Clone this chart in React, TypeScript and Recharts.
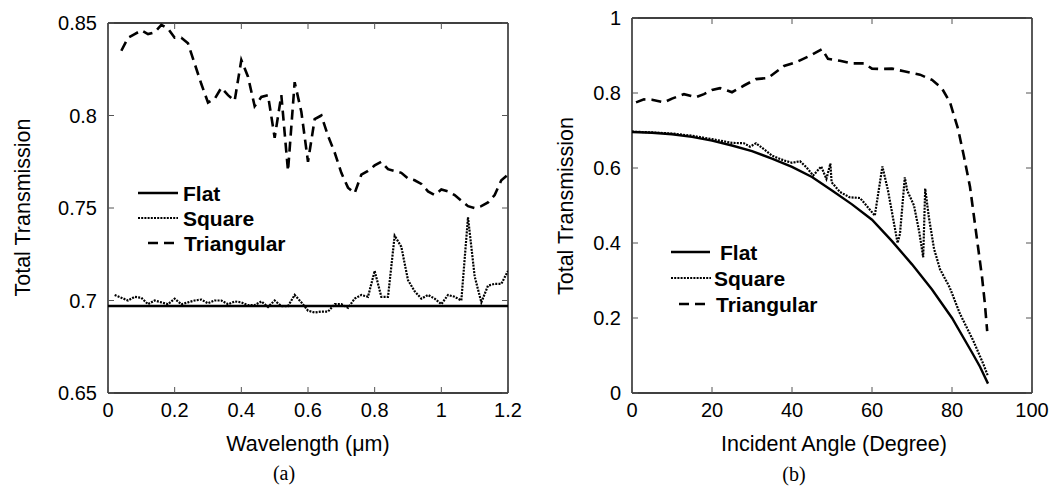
import React from 'react'
import { LineChart, Line, XAxis, YAxis, Legend } from 'recharts'

// ---- panel (a): transmission vs wavelength ----
const wlFlat = [0, 0.2, 0.4, 0.6, 0.8, 1.0, 1.2]
const flatA = [0.697, 0.697, 0.697, 0.697, 0.697, 0.697, 0.697]

const wlSquare = [
  0.02, 0.04, 0.06, 0.08, 0.1, 0.12, 0.14, 0.16, 0.18, 0.2, 0.22, 0.24, 0.26, 0.28, 0.3,
  0.32, 0.34, 0.36, 0.38, 0.4, 0.42, 0.44, 0.46, 0.48, 0.5, 0.52, 0.54, 0.56, 0.58, 0.6,
  0.62, 0.64, 0.66, 0.68, 0.7, 0.72, 0.74, 0.76, 0.78, 0.8, 0.82, 0.84, 0.86, 0.88, 0.9,
  0.92, 0.94, 0.96, 0.98, 1.0, 1.02, 1.04, 1.06, 1.08, 1.1, 1.12, 1.14, 1.16, 1.18, 1.2,
]
const squareA = [
  0.703, 0.7015, 0.7, 0.702, 0.7015, 0.698, 0.7, 0.699, 0.698, 0.701, 0.698, 0.699, 0.7, 0.7005, 0.6985,
  0.7, 0.7, 0.698, 0.6995, 0.699, 0.6975, 0.6975, 0.6995, 0.6965, 0.7, 0.697, 0.697, 0.703, 0.699, 0.6945,
  0.6935, 0.694, 0.694, 0.698, 0.698, 0.696, 0.701, 0.703, 0.702, 0.716, 0.702, 0.702, 0.735, 0.729, 0.711,
  0.705, 0.701, 0.703, 0.701, 0.698, 0.703, 0.702, 0.7, 0.745, 0.713, 0.699, 0.708, 0.709, 0.709, 0.716,
]

const wlTri = [
  0.04, 0.06, 0.08, 0.1, 0.12, 0.14, 0.16, 0.18, 0.2, 0.22, 0.24, 0.26, 0.28, 0.3,
  0.32, 0.34, 0.36, 0.38, 0.4, 0.42, 0.44, 0.46, 0.48, 0.5, 0.52, 0.54, 0.56, 0.58, 0.6,
  0.62, 0.64, 0.66, 0.68, 0.7, 0.72, 0.74, 0.76, 0.78, 0.8, 0.82, 0.84, 0.86, 0.88, 0.9,
  0.92, 0.94, 0.96, 0.98, 1.0, 1.02, 1.04, 1.06, 1.08, 1.1, 1.12, 1.14, 1.16, 1.18, 1.2,
]
const triA = [
  0.835, 0.842, 0.844, 0.846, 0.844, 0.845, 0.849, 0.847, 0.842, 0.842, 0.839, 0.828, 0.817, 0.807,
  0.809, 0.815, 0.811, 0.808, 0.83, 0.821, 0.805, 0.81, 0.811, 0.788, 0.811, 0.77, 0.818, 0.802, 0.775,
  0.798, 0.8, 0.789, 0.78, 0.769, 0.761, 0.758, 0.768, 0.77, 0.773, 0.775, 0.771, 0.77, 0.769, 0.766,
  0.765, 0.763, 0.759, 0.757, 0.76, 0.759, 0.757, 0.754, 0.751, 0.75, 0.751, 0.753, 0.757, 0.765, 0.768,
]

// ---- panel (b): transmission vs incident angle ----
const angFlat = [0, 5, 10, 15, 20, 25, 30, 35, 40, 45, 50, 55, 60, 65, 70, 75, 80, 85, 87, 89]
const flatB = [
  0.696, 0.694, 0.69, 0.683, 0.673, 0.66, 0.645, 0.625, 0.603, 0.576, 0.54, 0.503, 0.462, 0.405,
  0.343, 0.276, 0.2, 0.108, 0.07, 0.025,
]

const angSquare = [
  0, 5, 10, 15, 20, 25, 28, 29.5, 31, 33, 35, 38, 40, 42, 43.6, 45.3, 47.3, 48.6, 49.6, 49.9, 52,
  54.4, 57, 58.6, 60.7, 62.6, 64, 65.3, 66.4, 67, 68.2, 68.8, 70.5, 71.8, 72.8, 73.3, 74.2, 75.5,
  77, 79.4, 82, 85.3, 87.8, 89,
]
const squareB = [
  0.697, 0.695, 0.692, 0.686, 0.677, 0.667, 0.666, 0.657, 0.666, 0.65, 0.633, 0.62, 0.614, 0.618,
  0.602, 0.58, 0.604, 0.571, 0.612, 0.562, 0.536, 0.522, 0.52, 0.5, 0.473, 0.604, 0.54, 0.464, 0.4,
  0.425, 0.575, 0.54, 0.5, 0.43, 0.362, 0.545, 0.47, 0.385, 0.33, 0.282, 0.211, 0.14, 0.078, 0.045,
]

const angTri = [
  1, 3, 5, 8, 10, 13, 16, 18, 20, 22, 24, 25, 28, 31, 34, 38, 41, 45, 47.5, 49, 52, 55, 58, 60, 62,
  65, 68, 72, 75, 77.5, 79.5, 81.5, 83, 84.5, 85.5, 86.5, 87.5, 88.2, 88.8,
]
const triB = [
  0.775, 0.783, 0.782, 0.775, 0.785, 0.797, 0.789, 0.797, 0.808, 0.813, 0.806, 0.802, 0.82, 0.837,
  0.84, 0.872, 0.882, 0.902, 0.917, 0.891, 0.886, 0.879, 0.879, 0.865, 0.864, 0.865, 0.858, 0.849,
  0.835, 0.812, 0.775, 0.705, 0.63, 0.55, 0.47, 0.39, 0.31, 0.24, 0.165,
]

const seriesNames = ['Flat', 'Square', 'Triangular']
const ticksWl = [0, 0.2, 0.4, 0.6, 0.8, 1, 1.2]
const ticksTa = [0.65, 0.7, 0.75, 0.8, 0.85]
const ticksAng = [0, 20, 40, 60, 80, 100]
const ticksTb = [0, 0.2, 0.4, 0.6, 0.8, 1]

const zip = (xs: number[], ys: number[]) => xs.map((x, i) => ({ x, y: ys[i] }))

const FONT = '"Liberation Sans", Arial, sans-serif'
const TICK = 6
const TICK_COLOR = '#555'
const TICK_FONT = 20

type TickProps = { x?: number; y?: number; payload?: { value: number } }

const BottomTick = ({ x = 0, y = 0, payload }: TickProps) => (
  <g>
    <line x1={x} y1={y} x2={x} y2={y - TICK} stroke={TICK_COLOR} />
    <text x={x} y={y + 23.5} textAnchor="middle" fontSize={TICK_FONT} fontFamily={FONT} fill="#000">
      {payload?.value}
    </text>
  </g>
)
const TopTick = ({ x = 0, y = 0 }: TickProps) => (
  <line x1={x} y1={y} x2={x} y2={y + TICK} stroke={TICK_COLOR} />
)
const LeftTick = ({ x = 0, y = 0, payload }: TickProps) => (
  <g>
    <line x1={x} y1={y} x2={x + TICK} y2={y} stroke={TICK_COLOR} />
    <text x={x - 11} y={y} dy="0.36em" textAnchor="end" fontSize={TICK_FONT} fontFamily={FONT} fill="#000">
      {payload?.value}
    </text>
  </g>
)
const RightTick = ({ x = 0, y = 0 }: TickProps) => (
  <line x1={x} y1={y} x2={x - TICK} y2={y} stroke={TICK_COLOR} />
)

const axisLine = { stroke: '#000', strokeWidth: 1.3 }

// box frame: four axes with inward ticks (1px thick axes so they still render)
function frame(xDomain: number[], yDomain: number[], xTicks: number[], yTicks: number[]) {
  return [
    <XAxis key="b" xAxisId="b" dataKey="x" type="number" domain={xDomain} ticks={xTicks} allowDataOverflow
      height={1} tickLine={false} tickSize={0} tickMargin={0} interval={0} axisLine={axisLine}
      tick={(p: TickProps) => <BottomTick {...p} />} />,
    <XAxis key="t" xAxisId="t" orientation="top" dataKey="x" type="number" domain={xDomain} ticks={xTicks}
      allowDataOverflow height={1} tickLine={false} tickSize={0} tickMargin={0} interval={0} axisLine={axisLine}
      tick={(p: TickProps) => <TopTick {...p} />} />,
    <YAxis key="l" yAxisId="l" type="number" domain={yDomain} ticks={yTicks} allowDataOverflow width={1}
      tickLine={false} tickSize={0} tickMargin={0} interval={0} axisLine={axisLine}
      tick={(p: TickProps) => <LeftTick {...p} />} />,
    <YAxis key="r" yAxisId="r" orientation="right" type="number" domain={yDomain} ticks={yTicks}
      allowDataOverflow width={1} tickLine={false} tickSize={0} tickMargin={0} interval={0} axisLine={axisLine}
      tick={(p: TickProps) => <RightTick {...p} />} />,
  ]
}

const styles = [
  { strokeWidth: 2.4 },
  { strokeWidth: 2.2, strokeDasharray: '2 1.2' },
  { strokeWidth: 2.6, strokeDasharray: '10 6' },
]

type Row = { x1: number; x2: number; tx: number; y: number }

const makeLegend = (rows: Row[]) => (props: any) => {
  const items = props.payload ?? []
  return (
    <svg width={230} height={90} style={{ overflow: 'visible', display: 'block' }}>
      {items.map((it: any, i: number) => {
        const r = rows[i]
        const p = it.payload ?? {}
        return (
          <g key={i}>
            <line x1={r.x1} x2={r.x2} y1={r.y} y2={r.y} stroke="#000"
              strokeWidth={p.strokeWidth} strokeDasharray={p.strokeDasharray} />
            <text x={r.tx} y={r.y} dy="0.36em" fontSize={21} fontWeight="bold" fontFamily={FONT} fill="#000">
              {it.value}
            </text>
          </g>
        )
      })}
    </svg>
  )
}

const legendA = makeLegend([
  { x1: 8, x2: 48, tx: 53, y: 23 },
  { x1: 8, x2: 48, tx: 53, y: 48 },
  { x1: 18, x2: 46, tx: 54, y: 73 },
])
const legendB = makeLegend([
  { x1: 11, x2: 50, tx: 60, y: 22 },
  { x1: 11, x2: 51, tx: 54, y: 48 },
  { x1: 19, x2: 48, tx: 56, y: 74 },
])

function lines(datasets: { x: number; y: number }[][]) {
  return datasets.map((d, i) => (
    <Line key={seriesNames[i]} name={seriesNames[i]} data={d} dataKey="y" xAxisId="b" yAxisId="l"
      type="linear" stroke="#000" {...styles[i]} dot={false} activeDot={false}
      isAnimationActive={false} legendType="line" />
  ))
}

export default function App() {
  const dataA = [zip(wlFlat, flatA), zip(wlSquare, squareA), zip(wlTri, triA)]
  const dataB = [zip(angFlat, flatB), zip(angSquare, squareB), zip(angTri, triB)]
  const txt = { fontFamily: FONT, fill: '#000' }
  return (
    <div style={{ position: 'absolute', left: 0, top: 0, width: 1051, height: 489, background: '#fff' }}>
      <div style={{ position: 'absolute', left: 0, top: 0 }}>
        <LineChart width={545} height={489} margin={{ top: 22, right: 36, bottom: 95, left: 107 }}>
          {frame([0, 1.2], [0.65, 0.85], ticksWl, ticksTa)}
          {lines(dataA)}
          <Legend layout="vertical" align="center" verticalAlign="middle" content={legendA}
            wrapperStyle={{ left: 130, top: 170, width: 230, height: 90 }} />
        </LineChart>
      </div>
      <div style={{ position: 'absolute', left: 520, top: 0 }}>
        <LineChart width={531} height={489} margin={{ top: 17, right: 18, bottom: 95, left: 111 }}>
          {frame([0, 100], [0, 1], ticksAng, ticksTb)}
          {lines(dataB)}
          <Legend layout="vertical" align="center" verticalAlign="middle" content={legendB}
            wrapperStyle={{ left: 140, top: 230, width: 230, height: 90 }} />
        </LineChart>
      </div>
      <svg width={1051} height={489} style={{ position: 'absolute', left: 0, top: 0, pointerEvents: 'none' }}>
        <text transform="translate(30,207.5) rotate(-90)" textAnchor="middle" fontSize={21.5} {...txt}>
          Total Transmission
        </text>
        <text x={308} y={451} textAnchor="middle" fontSize={21.5} {...txt}>Wavelength (μm)</text>
        <text x={284} y={480} textAnchor="middle" fontSize={20} fontFamily='"Liberation Serif", serif'>(a)</text>
        <text transform="translate(573,206) rotate(-90)" textAnchor="middle" fontSize={21.5} {...txt}>
          Total Transmission
        </text>
        <text x={834} y={451} textAnchor="middle" fontSize={21.5} {...txt}>Incident Angle (Degree)</text>
        <text x={794} y={481} textAnchor="middle" fontSize={20} fontFamily='"Liberation Serif", serif'>(b)</text>
      </svg>
    </div>
  )
}
